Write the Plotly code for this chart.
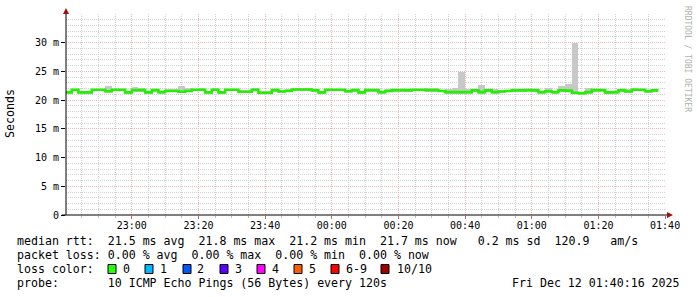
import pandas as pd
import plotly.graph_objects as go

# ---------------- data ----------------
start_time = "2025-12-11 22:40"
step_minutes = 2
range_start = "2025-12-11 22:40:16"
range_end = "2025-12-12 01:40:16"

median_ms = [21.35, 21.8, 21.35, 21.35, 21.8, 21.8, 21.55, 21.8, 21.8, 21.35,
             21.75, 21.75, 21.35, 21.75, 21.4, 21.6, 21.6, 21.45, 21.6, 21.8,
             21.8, 21.35, 21.8, 21.35, 21.8, 21.8, 21.45, 21.45, 21.8, 21.3,
             21.3, 21.75, 21.5, 21.6, 21.85, 21.85, 21.85, 21.7, 21.35, 21.8,
             21.8, 21.8, 21.55, 21.75, 21.35, 21.75, 21.75, 21.4, 21.6, 21.75,
             21.75, 21.7, 21.8, 21.8, 21.75, 21.75, 21.6, 21.4, 21.4, 21.4,
             21.4, 21.7, 21.4, 21.7, 21.4, 21.5, 21.6, 21.7, 21.7, 21.75,
             21.7, 21.4, 21.55, 21.4, 21.7, 21.65, 21.3, 21.2, 21.4, 21.75,
             21.75, 21.35, 21.4, 21.7, 21.5, 21.8, 21.8, 21.55, 21.7]

smoke_max_ms = [21.6, 22.0, 21.6, 21.6, 22.0, 22.0, 22.5, 22.0, 22.0, 21.6,
                22.3, 22.1, 21.6, 21.95, 21.65, 22.0, 22.0, 22.5, 22.1, 22.0,
                22.1, 21.6, 22.1, 21.6, 22.0, 22.0, 21.7, 21.7, 22.2, 21.55,
                21.55, 21.95, 21.75, 22.0, 22.1, 22.1, 22.05, 21.95, 21.6, 22.0,
                22.0, 22.0, 21.8, 21.95, 21.6, 21.95, 21.95, 21.65, 22.0, 21.95,
                21.95, 21.95, 22.0, 22.0, 22.1, 22.1, 21.85, 21.95, 22.1, 24.9,
                22.0, 21.9, 22.7, 21.9, 21.95, 21.75, 21.85, 22.0, 22.0, 22.0,
                22.0, 21.65, 22.15, 21.65, 22.45, 22.85, 30.0, 21.45, 22.15, 21.95,
                21.95, 21.6, 21.65, 21.9, 22.0, 22.05, 22.0, 21.75, 21.9]

smoke_min_ms = [21.1, 21.55, 21.1, 21.1, 21.55, 21.55, 21.3, 21.55, 21.55, 21.1,
                21.5, 21.5, 21.1, 21.5, 21.15, 21.35, 21.35, 21.2, 21.35, 21.55,
                21.55, 21.1, 21.55, 21.1, 21.55, 21.55, 21.2, 21.2, 21.55, 21.05,
                21.05, 21.5, 21.25, 21.35, 21.6, 21.6, 21.6, 21.45, 21.1, 21.55,
                21.55, 21.55, 21.3, 21.5, 21.1, 21.5, 21.5, 21.15, 21.35, 21.5,
                21.5, 21.45, 21.55, 21.55, 21.5, 21.5, 21.35, 21.15, 21.15, 21.15,
                21.15, 21.45, 21.15, 21.45, 21.15, 21.25, 21.35, 21.45, 21.45, 21.5,
                21.45, 21.15, 21.3, 21.15, 21.45, 21.4, 21.05, 20.95, 21.15, 21.5,
                21.5, 21.1, 21.15, 21.45, 21.25, 21.55, 21.55, 21.3, 21.45]

y_tick_vals = [0, 5, 10, 15, 20, 25, 30]
y_tick_text = ["0", "5 m", "10 m", "15 m", "20 m", "25 m", "30 m"]

loss_labels = ["0", "1", "2", "3", "4", "5", "6-9", "10/10"]
loss_colors = ["#26ff00", "#00b8ff", "#0059ff", "#5e00ff", "#ff00ff", "#ff5e00", "#ff0000", "#a10000"]

legend_rows = [
    "median rtt:  21.5 ms avg  21.8 ms max  21.2 ms min  21.7 ms now   0.2 ms sd  120.9   am/s",
    "packet loss: 0.00 % avg  0.00 % max  0.00 % min  0.00 % now",
    "loss color:",
    "probe:       10 ICMP Echo Pings (56 Bytes) every 120s",
]
timestamp_text = "Fri Dec 12 01:40:16 2025"
watermark = "RRDTOOL / TOBI OETIKER"

# ---------------- layout helpers (pixel -> paper) ----------------
W, H = 697, 297
L, R, T, B = 66, 31, 14, 82
PW, PH = W - L - R, H - T - B


def px(x):
    return (x - L) / PW


def py(y):
    return (T + PH - y) / PH


MONO = "DejaVu Sans Mono"
MAJOR_GRID = "#ebb8b8"
MINOR_GRID = "#d2d2d2"

times = pd.date_range(start=start_time, periods=len(median_ms), freq=f"{step_minutes}min")
line_x = list(times) + [times[-1] + pd.Timedelta(minutes=step_minutes)]
line_y = list(median_ms) + [median_ms[-1]]

fig = go.Figure()

fig.add_trace(go.Bar(
    x=times,
    y=[hi - lo for hi, lo in zip(smoke_max_ms, smoke_min_ms)],
    base=smoke_min_ms,
    width=step_minutes * 60 * 1000,
    offset=0,
    marker=dict(color="#c8c8c8", line=dict(width=0)),
    hoverinfo="skip",
    showlegend=False,
))

fig.add_trace(go.Scatter(
    x=line_x, y=line_y, mode="lines",
    line=dict(color="#22f000", width=2.6, shape="hv"),
    showlegend=False,
))

fig.update_layout(
    width=W, height=H,
    margin=dict(l=L, r=R, t=T, b=B, pad=0),
    paper_bgcolor="white", plot_bgcolor="white",
    bargap=0,
    showlegend=False,
    font=dict(family=MONO, size=10, color="black"),
)

fig.update_xaxes(
    type="date",
    range=[range_start, range_end],
    tick0="2025-12-11 23:00", dtick=20 * 60 * 1000,
    tickformat="%H:%M",
    showgrid=True, gridcolor=MAJOR_GRID, griddash="1px,1px", gridwidth=1,
    ticks="outside", ticklen=3, tickcolor="#d06060",
    ticklabelstandoff=-2,
    tickfont=dict(family=MONO, size=10, color="black"),
    minor=dict(dtick=5 * 60 * 1000, tick0="2025-12-11 23:00", showgrid=True,
               gridcolor=MINOR_GRID, griddash="1px,1px", ticks="outside", ticklen=2, tickcolor="#bbbbbb"),
    showline=False, zeroline=False, fixedrange=True,
)

fig.update_yaxes(
    range=[0, 35],
    tickvals=y_tick_vals, ticktext=y_tick_text,
    showgrid=True, gridcolor=MAJOR_GRID, griddash="1px,1px", gridwidth=1,
    ticks="outside", ticklen=4, tickcolor="black",
    tickfont=dict(family=MONO, size=10, color="black"),
    minor=dict(dtick=1, tick0=0, showgrid=True, gridcolor=MINOR_GRID, griddash="1px,1px"),
    showline=False, zeroline=False, fixedrange=True,
)

shapes = []
# axis lines
shapes.append(dict(type="line", xref="paper", yref="paper", x0=px(62), x1=px(669), y0=0, y1=0,
                   line=dict(color="black", width=1)))
shapes.append(dict(type="line", xref="paper", yref="paper", x0=0, x1=0, y0=0, y1=py(12),
                   line=dict(color="black", width=1)))
# arrows
shapes.append(dict(type="path", xref="paper", yref="paper",
                   path=f"M {px(667)} {py(212)} L {px(673)} {py(215)} L {px(667)} {py(218)} Z",
                   fillcolor="#a01010", line=dict(color="#a01010", width=0)))
shapes.append(dict(type="path", xref="paper", yref="paper",
                   path=f"M {px(63)} {py(14)} L {px(66)} {py(8)} L {px(69)} {py(14)} Z",
                   fillcolor="#a01010", line=dict(color="#a01010", width=0)))

# loss color boxes
box_x = [108, 145, 183, 220, 257, 294, 331, 381]
label_x = [122, 159, 196, 234, 271, 308, 345, 396]
for bx, c in zip(box_x, loss_colors):
    shapes.append(dict(type="rect", xref="paper", yref="paper",
                       x0=px(bx), x1=px(bx + 8), y0=py(273.5), y1=py(264.5),
                       fillcolor=c, line=dict(color="black", width=1)))

annotations = []
row_y = [241, 255, 269, 283]
for txt, yy in zip(legend_rows, row_y):
    annotations.append(dict(text=txt.replace(" ", "\u00a0"), xref="paper", yref="paper",
                            x=px(15), y=py(yy), xanchor="left", yanchor="middle",
                            showarrow=False, font=dict(family=MONO, size=11.6, color="black")))
for lx, lab in zip(label_x, loss_labels):
    annotations.append(dict(text=lab, xref="paper", yref="paper",
                            x=px(lx - 1), y=py(269), xanchor="left", yanchor="middle",
                            showarrow=False, font=dict(family=MONO, size=11.6, color="black")))
annotations.append(dict(text=timestamp_text, xref="paper", yref="paper",
                        x=px(682), y=py(283), xanchor="right", yanchor="middle",
                        showarrow=False, font=dict(family=MONO, size=11.6, color="black")))
annotations.append(dict(text="Seconds", xref="paper", yref="paper",
                        x=px(10), y=py(114), xanchor="center", yanchor="middle", textangle=-90,
                        showarrow=False, font=dict(family=MONO, size=11.6, color="black")))
annotations.append(dict(text=watermark.replace(" ", "\u00a0"), xref="paper", yref="paper",
                        x=px(687), y=py(59), xanchor="center", yanchor="middle", textangle=90,
                        showarrow=False, font=dict(family=MONO, size=8, color="#b0b0b0")))

fig.update_layout(shapes=shapes, annotations=annotations)

fig.write_html("out.html")
